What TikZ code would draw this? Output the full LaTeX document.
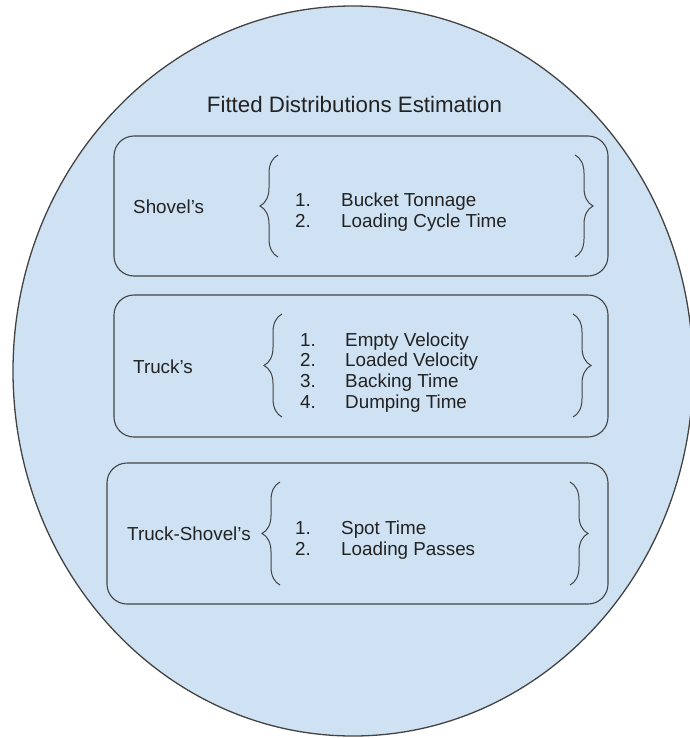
\documentclass[tikz,border=0pt]{standalone}
\usepackage{fontspec}
\setmainfont{Liberation Sans}
\usetikzlibrary{decorations.pathreplacing}
\definecolor{bluefill}{HTML}{CFE2F3}
\definecolor{edgegray}{HTML}{434343}
\definecolor{inkdark}{HTML}{222222}
\tikzset{
  panel/.style={draw=edgegray, line width=1.1bp, rounded corners=20bp, rectangle, inner sep=0pt},
  itemtxt/.style={anchor=base west, inner sep=0pt, text=inkdark, font=\fontsize{18.9}{22}\selectfont},
  labeltxt/.style={anchor=base west, inner sep=0pt, text=inkdark, font=\fontsize{18.9}{22}\selectfont},
  curly/.style={draw=edgegray, line width=1bp, decorate, decoration={brace, amplitude=18bp}},
}
\begin{document}
\begin{tikzpicture}[x=1bp, y=-1bp]
\useasboundingbox (0,0) rectangle (690,738);

% outer ellipse
\draw[fill=bluefill, draw=edgegray, line width=1.3bp] (353,371) ellipse (340 and 365);

% title
\node[anchor=base, inner sep=0pt, text=inkdark, font=\fontsize{22.4}{26}\selectfont] (title) at (354.5,112) {Fitted Distributions Estimation};

% panels
\node[panel, minimum width=494bp, minimum height=140bp] (shovelbox) at (361,206) {};
\node[panel, minimum width=494bp, minimum height=142bp] (truckbox) at (361,366) {};
\node[panel, minimum width=501bp, minimum height=141bp] (tsbox) at (357.5,533.5) {};

% Shovel's
\node[labeltxt] (shovel) at (133,213) {Shovel’s};
\draw[curly] (278,257) -- (278,155);
\draw[curly] (575,155) -- (575,257);
\node[itemtxt] (s1n) at (295,206) {1.};
\node[itemtxt] (s1) at (341,206) {Bucket Tonnage};
\node[itemtxt] (s2n) at (295,227) {2.};
\node[itemtxt] (s2) at (341,227) {Loading Cycle Time};

% Truck's
\node[labeltxt] (truck) at (133,373) {Truck’s};
\draw[curly] (282,417) -- (282,314);
\draw[curly] (573,314) -- (573,417);
\node[itemtxt] (t1n) at (300,346) {1.};
\node[itemtxt] (t1) at (345,346) {Empty Velocity};
\node[itemtxt] (t2n) at (300,366.7) {2.};
\node[itemtxt] (t2) at (345,366.7) {Loaded Velocity};
\node[itemtxt] (t3n) at (300,387.4) {3.};
\node[itemtxt] (t3) at (345,387.4) {Backing Time};
\node[itemtxt] (t4n) at (300,408) {4.};
\node[itemtxt] (t4) at (345,408) {Dumping Time};

% Truck-Shovel's
\node[labeltxt] (ts) at (127,540) {Truck-Shovel’s};
\draw[curly] (280,585) -- (280,482);
\draw[curly] (570,482) -- (570,585);
\node[itemtxt] (p1n) at (295,534) {1.};
\node[itemtxt] (p1) at (341,534) {Spot Time};
\node[itemtxt] (p2n) at (295,555) {2.};
\node[itemtxt] (p2) at (341,555) {Loading Passes};
\end{tikzpicture}
\end{document}
